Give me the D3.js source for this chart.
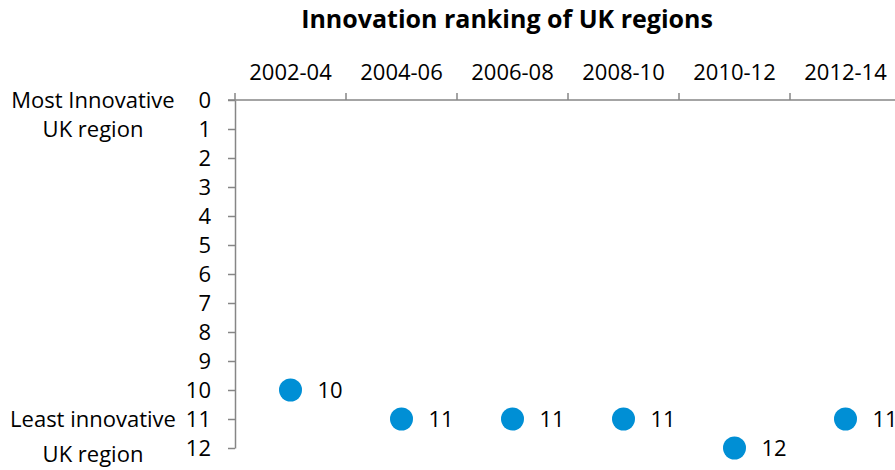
<!DOCTYPE html>
<html lang="en">
<head>
  <meta charset="utf-8">
  <title>Innovation ranking of UK regions</title>
  <script src="https://cdnjs.cloudflare.com/ajax/libs/d3/7.8.5/d3.min.js"></script>
  <style>
    body { margin: 0; background: #fff; }
    svg text { font-family: "Open Sans", "Noto Sans", sans-serif; fill: #000; }
    .axis path, .axis line { stroke: #868686; stroke-width: 1.5px; }
  </style>
</head>
<body>
<svg width="895" height="470"></svg>
<script>
// data
var periods = ["2002-04", "2004-06", "2006-08", "2008-10", "2010-12", "2012-14"];
var ranks = [10, 11, 11, 11, 12, 11];
var rankTicks = [0, 1, 2, 3, 4, 5, 6, 7, 8, 9, 10, 11, 12];

var svg = d3.select("svg");

var x = d3.scaleBand().domain(periods).range([235, 901]);
var y = d3.scaleLinear().domain([0, 12]).range([100, 448]);

svg.append("text")
    .attr("x", 507).attr("y", 28)
    .attr("text-anchor", "middle")
    .style("font-size", "25px").style("font-weight", "bold")
    .text("Innovation ranking of UK regions");

// x axis on top
var xAxis = svg.append("g")
    .attr("class", "axis")
    .attr("transform", "translate(0,100)")
    .call(d3.axisTop(x).tickSize(0).tickPadding(20));
xAxis.select(".domain").attr("d", "M228,0H895");
xAxis.selectAll("text").style("font-size", "22px");
xAxis.selectAll(".bound")
    .data(periods.map(function(p) { return x(p); }))
  .enter().append("line")
    .attr("class", "bound")
    .attr("x1", function(d) { return d; }).attr("x2", function(d) { return d; })
    .attr("y1", -7).attr("y2", 0);

// y axis
var yAxis = svg.append("g")
    .attr("class", "axis")
    .attr("transform", "translate(235,0)")
    .call(d3.axisLeft(y).tickValues(rankTicks).tickSize(7).tickSizeOuter(0).tickPadding(17));
yAxis.selectAll("text").style("font-size", "22px");

// side captions
var captions = [
  {t: "Most Innovative", r: 0}, {t: "UK region", r: 1},
  {t: "Least innovative", r: 11}, {t: "UK region", r: 12.2}
];
svg.selectAll(".cap")
    .data(captions)
  .enter().append("text")
    .attr("class", "cap")
    .attr("x", 93)
    .attr("y", function(d) { return y(d.r); })
    .attr("dy", "0.35em")
    .attr("text-anchor", "middle")
    .style("font-size", "22px")
    .text(function(d) { return d.t; });

// points
var pts = periods.map(function(p, i) { return {p: p, v: ranks[i]}; });
svg.selectAll(".dot")
    .data(pts)
  .enter().append("circle")
    .attr("class", "dot")
    .attr("cx", function(d) { return x(d.p) + x.bandwidth() / 2; })
    .attr("cy", function(d) { return y(d.v); })
    .attr("r", 11.5)
    .attr("fill", "#008fd5");

svg.selectAll(".lbl")
    .data(pts)
  .enter().append("text")
    .attr("class", "lbl")
    .attr("x", function(d) { return x(d.p) + x.bandwidth() / 2 + 27; })
    .attr("y", function(d) { return y(d.v); })
    .attr("dy", "0.35em")
    .style("font-size", "22px")
    .text(function(d) { return d.v; });
</script>
</body>
</html>
